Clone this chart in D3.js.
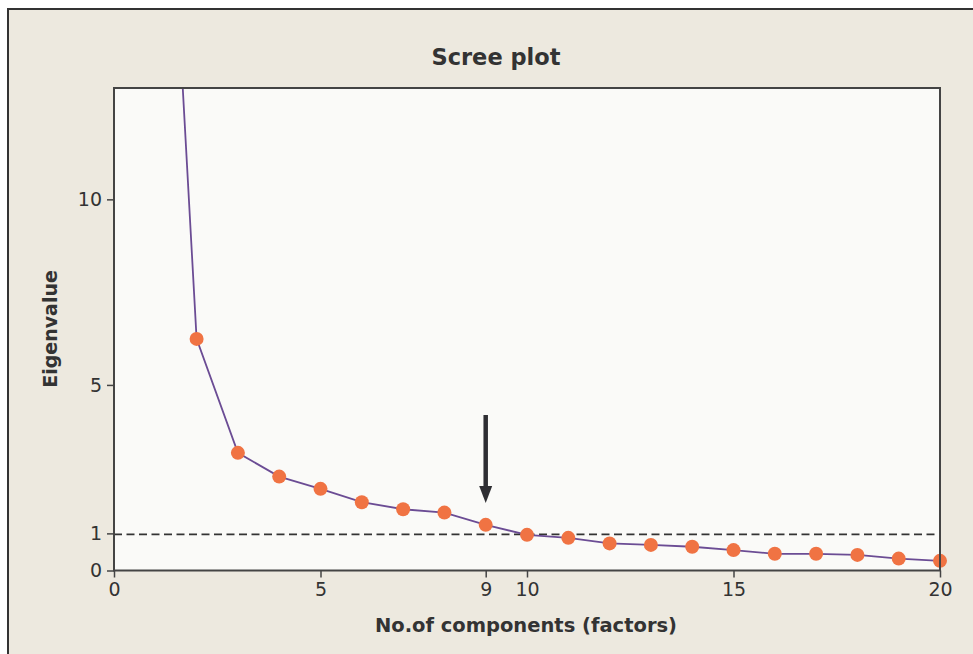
<!DOCTYPE html>
<html><head><meta charset="utf-8">
<script src="https://cdn.jsdelivr.net/npm/d3@7"></script>
<style>body{margin:0;background:#fff;}svg{display:block;font-family:"DejaVu Sans",Verdana,sans-serif;}</style>
</head><body>
<svg id="c" width="973" height="654"></svg>
<script>
const components = [1,2,3,4,5,6,7,8,9,10,11,12,13,14,15,16,17,18,19,20];
const eigenvalues = [26.4,6.24,3.17,2.53,2.20,1.84,1.65,1.56,1.23,0.96,0.88,0.73,0.69,0.64,0.55,0.45,0.45,0.42,0.32,0.26];
const xTicks = [0,5,9,10,15,20];
const yTicks = [0,1,5,10];
const kaiserThreshold = 1;
const arrowAt = 9;
const title = "Scree plot";
const xLabel = "No.of components (factors)";
const yLabel = "Eigenvalue";

const svg = d3.select("#c");
const L=114, R=940, T=88, B=570.5;
svg.append("rect").attr("x",8).attr("y",9).attr("width",1000).attr("height",700)
  .attr("fill","#ede9df").attr("stroke","#333").attr("stroke-width",2);
svg.append("rect").attr("x",L).attr("y",T).attr("width",R-L).attr("height",B-T).attr("fill","#fafaf8");

const x = d3.scaleLinear().domain([0,20]).range([L,R]);
const y = d3.scaleLinear().domain([0,13]).range([B,T]);

svg.append("defs").append("clipPath").attr("id","clip").append("rect")
  .attr("x",L).attr("y",T).attr("width",R-L).attr("height",B-T);

// kaiser line
svg.append("line").attr("x1",L).attr("x2",R).attr("y1",y(kaiserThreshold)+1).attr("y2",y(kaiserThreshold)+1)
  .attr("stroke","#333").attr("stroke-width",1.7).attr("stroke-dasharray","8,4.5");

const g = svg.append("g").attr("clip-path","url(#clip)");
const data = components.map((c,i)=>({c,v:eigenvalues[i]}));
g.append("path").datum(data).attr("fill","none").attr("stroke","#6b4c94").attr("stroke-width",1.8)
  .attr("d",d3.line().x(d=>x(d.c)).y(d=>y(d.v)));
svg.append("g").selectAll("circle").data(data.filter(d=>y(d.v)>=T)).join("circle")
  .attr("cx",d=>x(d.c)).attr("cy",d=>y(d.v)).attr("r",7).attr("fill","#f07343");

// frame
svg.append("rect").attr("x",L).attr("y",T).attr("width",R-L).attr("height",B-T)
  .attr("fill","none").attr("stroke","#444").attr("stroke-width",2);

// axes
const xa = svg.append("g").attr("transform",`translate(0,${B})`)
  .call(d3.axisBottom(x).tickValues(xTicks).tickSize(7).tickPadding(5).tickFormat(d3.format("d")));
const ya = svg.append("g").attr("transform",`translate(${L},0)`)
  .call(d3.axisLeft(y).tickValues(yTicks).tickSize(7).tickPadding(5).tickFormat(d3.format("d")));
[xa,ya].forEach(a=>{
  a.select(".domain").remove();
  a.selectAll("line").attr("stroke","#444").attr("stroke-width",1.5);
  a.selectAll("text").attr("fill","#333").attr("font-size",19).attr("font-family","DejaVu Sans, sans-serif");
});

// arrow
const ax = x(arrowAt);
svg.append("line").attr("x1",ax).attr("x2",ax).attr("y1",415).attr("y2",490)
  .attr("stroke","#2e2e33").attr("stroke-width",4.5);
svg.append("path").attr("d",`M${ax-6.5},486 L${ax+6.5},486 L${ax},503 Z`).attr("fill","#2e2e33");

svg.append("text").attr("x",496).attr("y",65).attr("text-anchor","middle")
  .attr("font-size",22.5).attr("font-weight","bold").attr("fill","#333").text(title);
svg.append("text").attr("x",526).attr("y",632).attr("text-anchor","middle")
  .attr("font-size",19.5).attr("font-weight","bold").attr("fill","#333").text(xLabel);
svg.append("text").attr("transform","translate(57,329) rotate(-90)").attr("text-anchor","middle")
  .attr("font-size",19).attr("font-weight","bold").attr("fill","#333").text(yLabel);
</script>
</body></html>
